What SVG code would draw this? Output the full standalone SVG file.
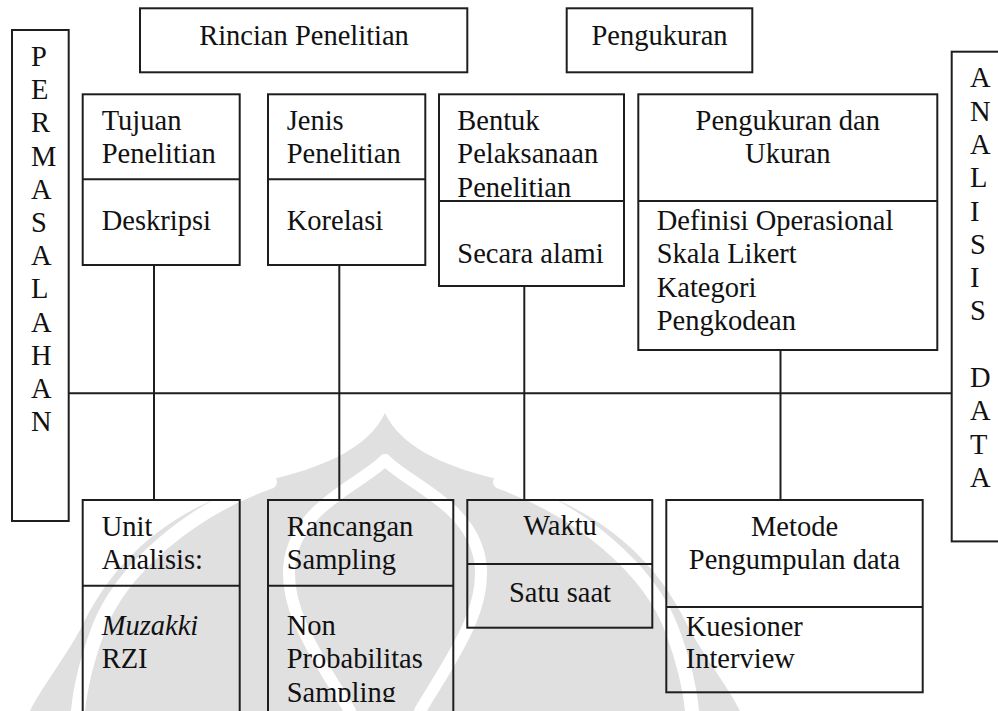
<svg xmlns="http://www.w3.org/2000/svg" width="998" height="711" viewBox="0 0 998 711">
<style>
.box{fill:none;stroke:#1e1e1e;stroke-width:2}
.ln{fill:none;stroke:#1e1e1e;stroke-width:2}
.t{font-family:"Liberation Serif","Times New Roman",serif;font-size:28.5px;fill:#111}
.c{text-anchor:middle}
.wm{fill:#e0e0e0}
.wb{fill:none;stroke:#fff;stroke-linecap:round}
</style>
<defs>
<clipPath id="clipBottom"><rect x="0" y="0" width="998" height="702"/></clipPath>
</defs>
<rect width="998" height="711" fill="#fff"/>
<g id="watermark">
<path class="wm" d="M385 413 C370 445 330 465 277 478 C230 490 180 510 140 547 C110 575 95 600 80 630 C60 665 40 690 30 711 L740 711 C730 690 710 665 690 630 C675 600 660 575 630 547 C590 510 540 490 493 478 C440 465 400 445 385 413 Z"/>
<path class="wb" stroke-width="14" d="M500 482 C580 510 650 570 672 630 C685 665 690 690 692 711"/>
<path class="wb" stroke-width="14" d="M270 482 C190 510 120 570 98 630 C85 665 80 690 78 711"/>
<path class="wb" stroke-width="12" d="M385 460 C360 485 300 505 290 560 C282 610 320 660 350 711"/>
<path class="wb" stroke-width="12" d="M385 460 C410 485 470 505 480 560 C488 610 450 660 420 711"/>
</g>
<g id="connectors">
<line class="ln" x1="68.7" y1="393.3" x2="951.7" y2="393.3"/>
<line class="ln" x1="154" y1="265" x2="154" y2="500"/>
<line class="ln" x1="339.3" y1="265" x2="339.3" y2="500"/>
<line class="ln" x1="524.3" y1="286" x2="524.3" y2="500"/>
<line class="ln" x1="780.5" y1="350" x2="780.5" y2="500"/>
</g>
<g id="permasalahan">
<rect class="box" x="12" y="30" width="56.7" height="491"/>
<text class="t" x="31" y="66">P</text>
<text class="t" x="31" y="99.2">E</text>
<text class="t" x="31" y="132.4">R</text>
<text class="t" x="31" y="165.6">M</text>
<text class="t" x="31" y="198.8">A</text>
<text class="t" x="31" y="232">S</text>
<text class="t" x="31" y="265.2">A</text>
<text class="t" x="31" y="298.4">L</text>
<text class="t" x="31" y="331.6">A</text>
<text class="t" x="31" y="364.8">H</text>
<text class="t" x="31" y="398">A</text>
<text class="t" x="31" y="431.2">N</text>
</g>
<g id="rincian">
<rect class="box" x="140" y="8.3" width="327.3" height="64"/>
<text class="t c" x="304" y="45">Rincian Penelitian</text>
</g>
<g id="pengukuran">
<rect class="box" x="566.7" y="8.3" width="185.6" height="64"/>
<text class="t c" x="659.5" y="45">Pengukuran</text>
</g>
<g id="tujuan">
<rect class="box" x="82.7" y="94.3" width="157" height="170.7"/>
<line class="ln" x1="82.7" y1="179.3" x2="239.7" y2="179.3"/>
<text class="t" x="101.7" y="130">Tujuan</text>
<text class="t" x="101.7" y="163.3">Penelitian</text>
<text class="t" x="101.7" y="230">Deskripsi</text>
</g>
<g id="jenis">
<rect class="box" x="268" y="94.3" width="157.3" height="170.7"/>
<line class="ln" x1="268" y1="179.3" x2="425.3" y2="179.3"/>
<text class="t" x="286.7" y="130">Jenis</text>
<text class="t" x="286.7" y="163.3">Penelitian</text>
<text class="t" x="286.7" y="230">Korelasi</text>
</g>
<g id="bentuk">
<rect class="box" x="439" y="94.3" width="185" height="191.7"/>
<line class="ln" x1="439" y1="201" x2="624" y2="201"/>
<text class="t" x="457.3" y="130">Bentuk</text>
<text class="t" x="457.3" y="163.3">Pelaksanaan</text>
<text class="t" x="457.3" y="196.7">Penelitian</text>
<text class="t" x="457.3" y="263.3">Secara alami</text>
</g>
<g id="pengukuran-ukuran">
<rect class="box" x="638.3" y="94.3" width="299" height="255.7"/>
<line class="ln" x1="638.3" y1="201" x2="937.3" y2="201"/>
<text class="t c" x="787.8" y="130">Pengukuran dan</text>
<text class="t c" x="787.8" y="163.3">Ukuran</text>
<text class="t" x="656.7" y="230">Definisi Operasional</text>
<text class="t" x="656.7" y="263.3">Skala Likert</text>
<text class="t" x="656.7" y="296.7">Kategori</text>
<text class="t" x="656.7" y="330">Pengkodean</text>
</g>
<g id="analisis-data">
<rect class="box" x="951.7" y="51.7" width="60" height="489.7"/>
<text class="t" x="970" y="87.3">A</text>
<text class="t" x="970" y="120.6">N</text>
<text class="t" x="970" y="153.9">A</text>
<text class="t" x="970" y="187.2">L</text>
<text class="t" x="970" y="220.5">I</text>
<text class="t" x="970" y="253.8">S</text>
<text class="t" x="970" y="287.1">I</text>
<text class="t" x="970" y="320.4">S</text>
<text class="t" x="970" y="387">D</text>
<text class="t" x="970" y="420.3">A</text>
<text class="t" x="970" y="453.6">T</text>
<text class="t" x="970" y="486.9">A</text>
</g>
<g id="unit-analisis">
<rect class="box" x="82.7" y="500" width="157" height="230"/>
<line class="ln" x1="82.7" y1="585.7" x2="239.7" y2="585.7"/>
<text class="t" x="101.7" y="535.7">Unit</text>
<text class="t" x="101.7" y="569">Analisis:</text>
<text class="t" x="101.7" y="635" font-style="italic">Muzakki</text>
<text class="t" x="101.7" y="668.3">RZI</text>
</g>
<g id="rancangan-sampling">
<rect class="box" x="268" y="500" width="185.3" height="230"/>
<line class="ln" x1="268" y1="585.7" x2="453.3" y2="585.7"/>
<text class="t" x="286.7" y="535.7">Rancangan</text>
<text class="t" x="286.7" y="569">Sampling</text>
<text class="t" x="286.7" y="635">Non</text>
<text class="t" x="286.7" y="668.3">Probabilitas</text>
<text class="t" x="286.7" y="701.7" clip-path="url(#clipBottom)">Sampling</text>
</g>
<g id="waktu">
<rect class="box" x="467.3" y="500" width="185" height="127.7"/>
<line class="ln" x1="467.3" y1="564" x2="652.3" y2="564"/>
<text class="t c" x="560" y="535">Waktu</text>
<text class="t c" x="560" y="601.7">Satu saat</text>
</g>
<g id="metode">
<rect class="box" x="666.3" y="500" width="256.4" height="192.3"/>
<line class="ln" x1="666.3" y1="607" x2="922.7" y2="607"/>
<text class="t c" x="794.5" y="535.7">Metode</text>
<text class="t c" x="794.5" y="569">Pengumpulan data</text>
<text class="t" x="685.7" y="635.7">Kuesioner</text>
<text class="t" x="685.7" y="668.3">Interview</text>
</g>
</svg>
